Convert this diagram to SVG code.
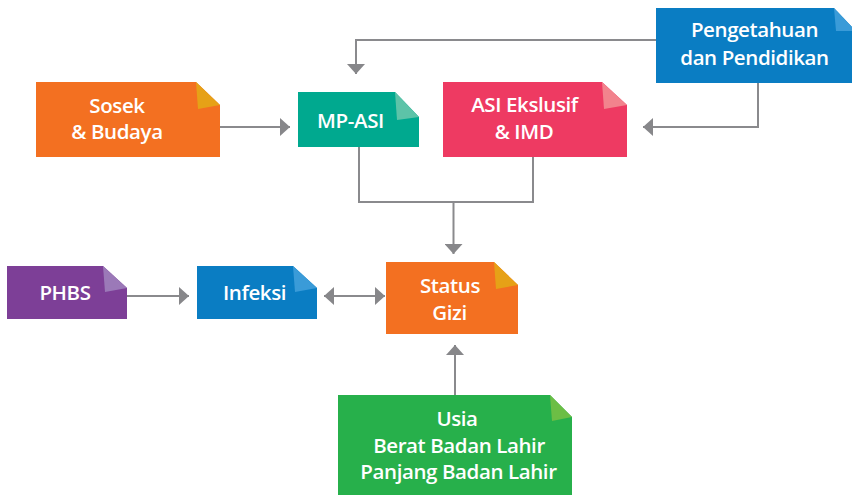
<svg xmlns="http://www.w3.org/2000/svg" width="852" height="495" viewBox="0 0 852 495">
  <defs>
    <marker id="arrow" viewBox="0 0 10 18" refX="10" refY="9" markerWidth="10" markerHeight="18" orient="auto-start-reverse" markerUnits="userSpaceOnUse">
      <path d="M0,0 L10,9 L0,18 Z" fill="#87878a"/>
    </marker>
    <style>
      .lbl { font-family: "Open Sans", "Noto Sans", "Liberation Sans", sans-serif; font-weight: 600; font-size: 20.5px; letter-spacing: -0.4px; fill: #ffffff; text-anchor: middle; }
      .wire { fill: none; stroke: #8a8a8d; stroke-width: 2; }
    </style>
  </defs>
  <rect width="852" height="495" fill="#ffffff"/>

  <!-- connectors -->
  <g id="connectors">
    <path class="wire" d="M656,40 H356 V74" marker-end="url(#arrow)"/>
    <path class="wire" d="M758,83 V127 H643" marker-end="url(#arrow)"/>
    <path class="wire" d="M220,127 H290" marker-end="url(#arrow)"/>
    <path class="wire" d="M359,147 V202 H533 V157"/>
    <path class="wire" d="M453.5,202 V254" marker-end="url(#arrow)"/>
    <path class="wire" d="M127,296 H189" marker-end="url(#arrow)"/>
    <path class="wire" d="M324,296 H385" marker-start="url(#arrow)" marker-end="url(#arrow)"/>
    <path class="wire" d="M455,395 V345" marker-end="url(#arrow)"/>
  </g>

  <!-- Sosek & Budaya -->
  <g id="sosek">
    <path d="M36,82 H196 L220,105 V157 H36 Z" fill="#f37021"/>
    <path d="M196,82 L220,105 L198,109 Z" fill="#e6a117"/>
    <text class="lbl" x="117" y="113">Sosek</text>
    <text class="lbl" x="117" y="139">&amp; Budaya</text>
  </g>

  <!-- MP-ASI -->
  <g id="mpasi">
    <path d="M298,92 H395 L419,117 V147 H298 Z" fill="#00a98f"/>
    <path d="M395,92 L419,117 L397,120 Z" fill="#5dc3a8"/>
    <text class="lbl" x="350.5" y="128">MP-ASI</text>
  </g>

  <!-- ASI Ekslusif & IMD -->
  <g id="asi">
    <path d="M443,82 H602 L627,105 V157 H443 Z" fill="#ee3a62"/>
    <path d="M602,82 L627,105 L604,109 Z" fill="#f2838d"/>
    <text class="lbl" x="524.5" y="112">ASI Ekslusif</text>
    <text class="lbl" x="524" y="139">&amp; IMD</text>
  </g>

  <!-- Pengetahuan dan Pendidikan -->
  <g id="pengetahuan">
    <path d="M656,8 H834 L852,27 V83 H656 Z" fill="#0a7dc3"/>
    <path d="M834,8 L852,27 L852,31 L836,31 Z" fill="#3a9bd8"/>
    <text class="lbl" x="754.5" y="37">Pengetahuan</text>
    <text class="lbl" x="754.5" y="65">dan Pendidikan</text>
  </g>

  <!-- PHBS -->
  <g id="phbs">
    <path d="M7,266 H103 L127,288 V319 H7 Z" fill="#7d3f97"/>
    <path d="M103,266 L127,288 L105,292 Z" fill="#9b79b8"/>
    <text class="lbl" x="65" y="300">PHBS</text>
  </g>

  <!-- Infeksi -->
  <g id="infeksi">
    <path d="M197,266 H293 L317,288 V319 H197 Z" fill="#0a7dc3"/>
    <path d="M293,266 L317,288 L295,292 Z" fill="#3a9bd8"/>
    <text class="lbl" x="254.5" y="300">Infeksi</text>
  </g>

  <!-- Status Gizi -->
  <g id="status">
    <path d="M386,262 H494 L518,285 V334 H386 Z" fill="#f37021"/>
    <path d="M494,262 L518,285 L496,289 Z" fill="#e6a117"/>
    <text class="lbl" x="450" y="293">Status</text>
    <text class="lbl" x="449.5" y="320">Gizi</text>
  </g>

  <!-- Usia / Berat / Panjang -->
  <g id="usia">
    <path d="M338,395 H550 L572,417 V495 H338 Z" fill="#27b04b"/>
    <path d="M550,395 L572,417 L552,421 Z" fill="#6cbe45"/>
    <text class="lbl" x="457" y="426">Usia</text>
    <text class="lbl" x="459" y="453">Berat Badan Lahir</text>
    <text class="lbl" x="458.5" y="479">Panjang Badan Lahir</text>
  </g>
</svg>
